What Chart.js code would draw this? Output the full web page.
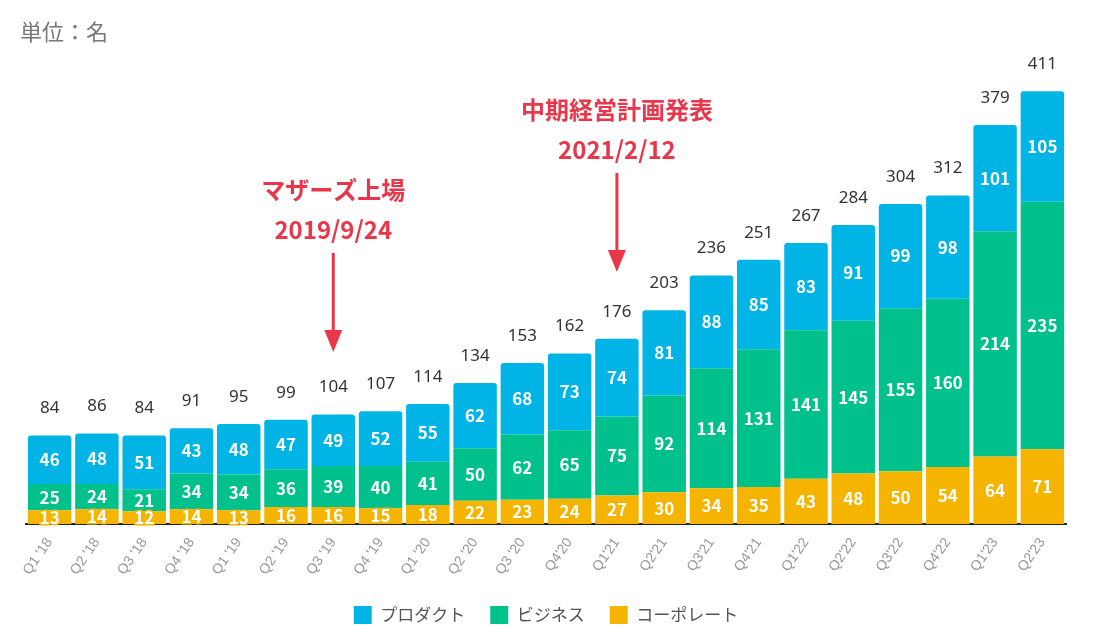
<!DOCTYPE html>
<html><head><meta charset="utf-8">
<script src="https://cdn.jsdelivr.net/npm/chart.js@4"></script>
<style>body{margin:0;background:#fff}#wrap{width:1094px;height:644px}</style>
</head><body><div id="wrap"><canvas id="myChart"></canvas></div>
<script>
var labels=["Q1 '18","Q2 '18","Q3 '18","Q4 '18","Q1 '19","Q2 '19","Q3 '19","Q4 '19","Q1 '20","Q2 '20","Q3 '20","Q4'20","Q1'21","Q2'21","Q3'21","Q4'21","Q1'22","Q2'22","Q3'22","Q4'22","Q1'23","Q2'23"];
var corp=[13,14,12,14,13,16,16,15,18,22,23,24,27,30,34,35,43,48,50,54,64,71];
var biz=[25,24,21,34,34,36,39,40,41,50,62,65,75,92,114,131,141,145,155,160,214,235];
var prod=[46,48,51,43,48,47,49,52,55,62,68,73,74,81,88,85,83,91,99,98,101,105];
var totals=[84,86,84,91,95,99,104,107,114,134,153,162,176,203,236,251,267,284,304,312,379,411];
var notes=[{i:6,a0:253,a1:352,lines:['マザーズ上場','2019/9/24'],ty:190},{i:12,a0:173,a1:272,lines:['中期経営計画発表','2021/2/12'],ty:110}];

var labelPlugin={
	id:'labels',
	afterDatasetsDraw:function(chart){
		var c=chart.ctx;
		c.save();
		c.textAlign='center';c.textBaseline='middle';
		c.font='bold 17px "Noto Sans CJK JP", sans-serif';
		chart.data.datasets.forEach(function(ds,d){
			chart.getDatasetMeta(d).data.forEach(function(bar,i){
				var y=(bar.y+bar.base)/2;
				c.lineWidth=3;c.strokeStyle=ds.backgroundColor;
				c.strokeText(ds.data[i],bar.x,y);
				c.fillStyle='#fff';c.fillText(ds.data[i],bar.x,y);
			});
		});
		var top=chart.getDatasetMeta(2).data;
		c.fillStyle='#333';c.font='17px "Noto Sans", sans-serif';
		top.forEach(function(bar,i){c.fillText(totals[i],bar.x,bar.y-27);});
		// annotations
		notes.forEach(function(n){
			var x=top[n.i].x;
			c.fillStyle='#e8374a';c.strokeStyle='#e8374a';
			c.font='bold 24px "Noto Sans CJK JP", sans-serif';
			c.fillText(n.lines[0],x,n.ty);
			c.fillText(n.lines[1],x,n.ty+40);
			c.lineWidth=3;
			c.beginPath();c.moveTo(x,n.a0);c.lineTo(x,n.a1-18);c.stroke();
			c.beginPath();c.moveTo(x-9,n.a1-22);c.lineTo(x+9,n.a1-22);c.lineTo(x,n.a1);c.closePath();c.fill();
		});
		c.fillStyle='#777';c.textAlign='left';c.font='22px "Noto Sans CJK JP", sans-serif';
		c.fillText('単位：名',20,32);
		c.restore();
	}
};

var ctx=document.getElementById('myChart').getContext('2d');
var myChart=new Chart(ctx,{
	type:'bar',
	data:{
		labels:labels,
		datasets:[
			{label:'コーポレート',data:corp,backgroundColor:'#f5b400'},
			{label:'ビジネス',data:biz,backgroundColor:'#00c08b'},
			{label:'プロダクト',data:prod,backgroundColor:'#00b4e6',borderRadius:{topLeft:3,topRight:3},borderSkipped:'bottom'}
		]
	},
	options:{
		responsive:true,maintainAspectRatio:false,animation:false,
		layout:{padding:{top:45,left:26,right:28,bottom:10}},
		datasets:{bar:{barPercentage:0.92,categoryPercentage:1}},
		scales:{
			x:{stacked:true,grid:{display:false},border:{color:'#222',width:2},
				ticks:{color:'#999',maxRotation:55,minRotation:55,font:{size:14}}},
			y:{stacked:true,display:false,min:0,max:455}
		},
		plugins:{
			tooltip:{enabled:false},
			legend:{position:'bottom',reverse:true,
				labels:{boxWidth:18,boxHeight:18,padding:25,color:'#555',font:{size:17,family:'"Noto Sans CJK JP"'}}}
		}
	},
	plugins:[labelPlugin]
});
</script></body></html>
